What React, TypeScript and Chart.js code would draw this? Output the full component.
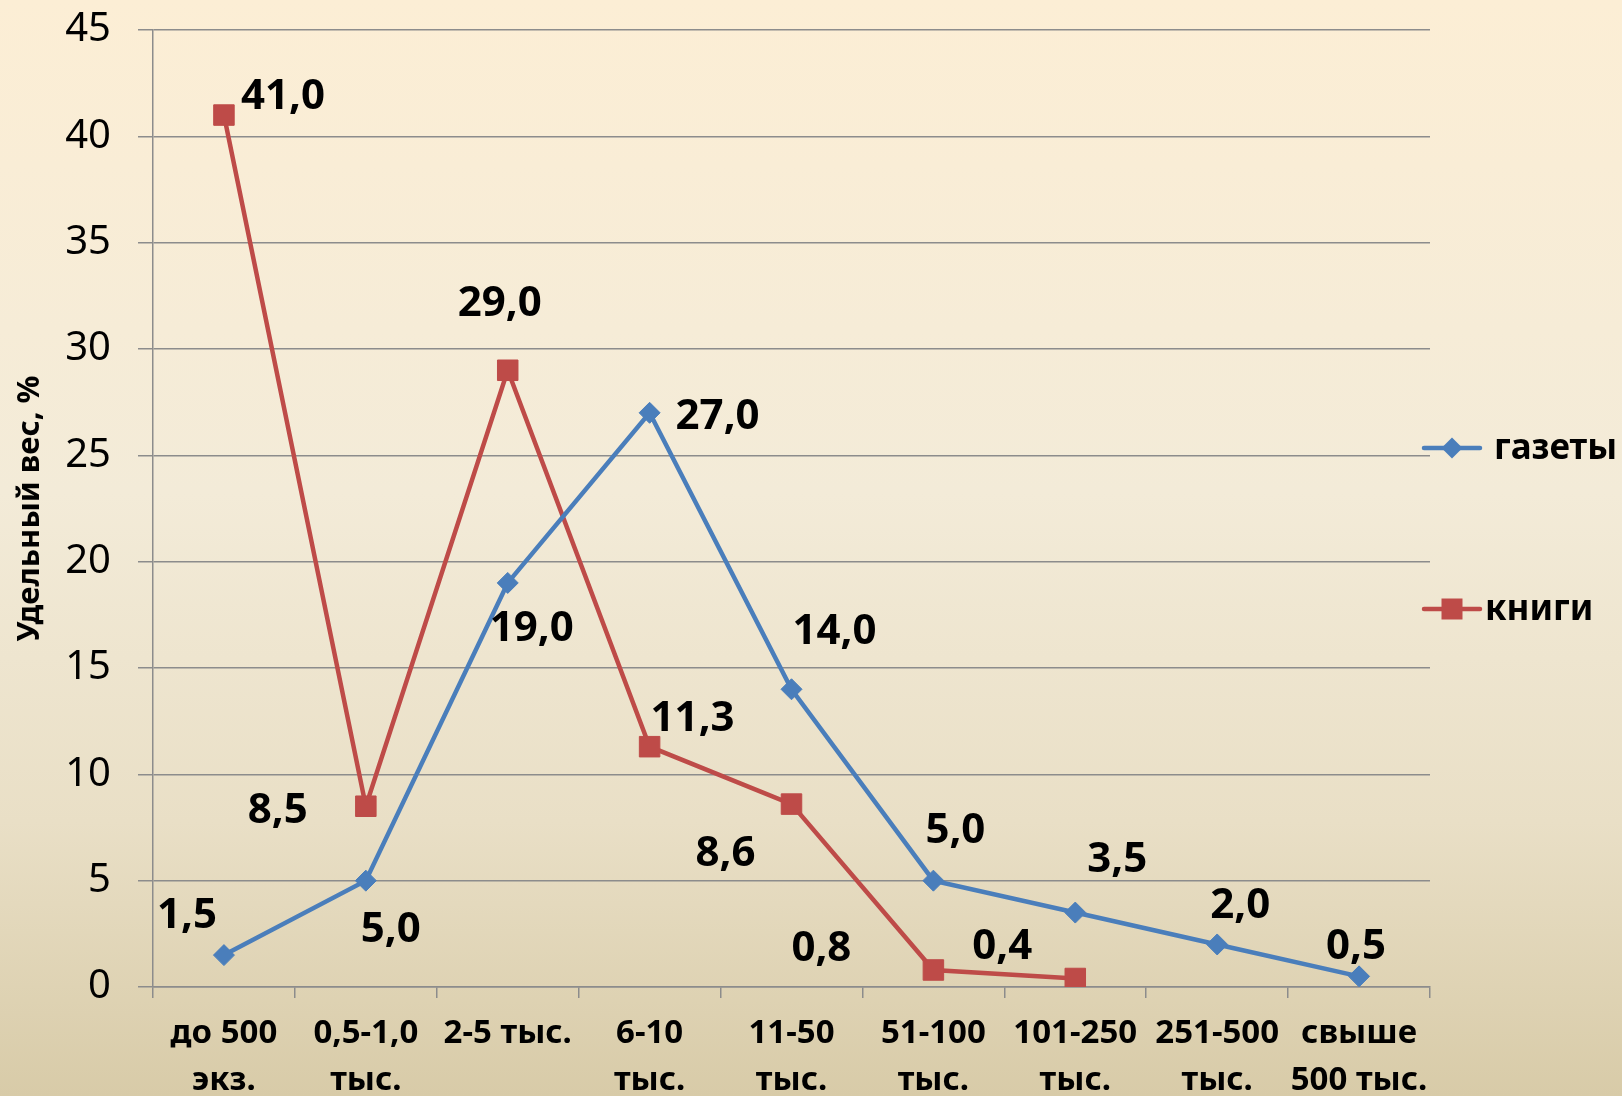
import { useEffect, useRef } from 'react';
import { Chart, registerables } from 'chart.js';

Chart.register(...registerables);

// ---- data ----
const categories: (string | string[])[] = [
  ['до 500', 'экз.'],
  ['0,5-1,0', 'тыс.'],
  '2-5 тыс.',
  ['6-10', 'тыс.'],
  ['11-50', 'тыс.'],
  ['51-100', 'тыс.'],
  ['101-250', 'тыс.'],
  ['251-500', 'тыс.'],
  ['свыше', '500 тыс.'],
];
const seriesNames = ['газеты', 'книги'];
const gazety: (number | null)[] = [1.5, 5.0, 19.0, 27.0, 14.0, 5.0, 3.5, 2.0, 0.5];
const knigi: (number | null)[] = [41.0, 8.5, 29.0, 11.3, 8.6, 0.8, 0.4, null, null];
const yMin = 0;
const yMax = 45;
const yStep = 5;
const yTitle = 'Удельный вес, %';

// data label offsets (label placement, px from the point)
const gazetyLabelOffsets = [[-37, -42], [25, 46], [24, 43], [68, 1], [43, -60], [22, -53], [42, -56], [23, -41], [-3, -32]];
const knigiLabelOffsets = [[59, -21], [-88, 2], [-8, -69], [43, -31], [-66, 47], [-112, -24], [-73, -34]];

const BLUE = '#4A7EBB';
const RED = '#BE4B48';
const GRID = '#8c8c8c';
const FONT = '"Noto Sans", "Open Sans", sans-serif';

const fmt = (v: number) => v.toFixed(1).replace('.', ',');

const dataLabelPlugin = {
  id: 'dataLabels',
  afterDatasetsDraw(chart: any) {
    const ctx = chart.ctx;
    const offsets = [gazetyLabelOffsets, knigiLabelOffsets];
    ctx.save();
    ctx.font = `bold 42px ${FONT}`;
    ctx.fillStyle = '#000';
    ctx.textAlign = 'center';
    ctx.textBaseline = 'alphabetic';
    chart.data.datasets.forEach((ds: any, di: number) => {
      const meta = chart.getDatasetMeta(di);
      meta.data.forEach((el: any, i: number) => {
        const v = ds.data[i];
        if (v === null || v === undefined) return;
        const off = offsets[di][i] || [0, -30];
        ctx.fillText(fmt(v), el.x + off[0], el.y + off[1] + 15);
      });
    });
    ctx.restore();
  },
};

const legendPlugin = {
  id: 'customLegend',
  afterDraw(chart: any) {
    const ctx = chart.ctx;
    const ca = chart.chartArea;
    const items = [
      { name: seriesNames[0], color: BLUE, style: 'diamond', y: 448, tx: ca.right + 64 },
      { name: seriesNames[1], color: RED, style: 'square', y: 609, tx: ca.right + 55 },
    ];
    ctx.save();
    items.forEach((it) => {
      const x0 = ca.right - 6;
      const x1 = ca.right + 50;
      const cx = (x0 + x1) / 2;
      ctx.strokeStyle = it.color;
      ctx.lineWidth = 4.5;
      ctx.lineCap = 'round';
      ctx.beginPath();
      ctx.moveTo(x0, it.y);
      ctx.lineTo(x1, it.y);
      ctx.stroke();
      ctx.fillStyle = it.color;
      ctx.beginPath();
      if (it.style === 'diamond') {
        const r = 10.5;
        ctx.moveTo(cx - r, it.y);
        ctx.lineTo(cx, it.y - r);
        ctx.lineTo(cx + r, it.y);
        ctx.lineTo(cx, it.y + r);
        ctx.closePath();
      } else {
        ctx.rect(cx - 10.5, it.y - 10.5, 21, 21);
      }
      ctx.fill();
      ctx.fillStyle = '#000';
      ctx.font = `bold 35px ${FONT}`;
      ctx.textAlign = 'left';
      ctx.textBaseline = 'alphabetic';
      ctx.fillText(it.name, it.tx, it.y + 11);
    });
    ctx.restore();
  },
};

export default function App() {
  const canvasRef = useRef<HTMLCanvasElement | null>(null);

  useEffect(() => {
    document.body.style.margin = '0';
    const canvas = canvasRef.current;
    if (!canvas) return;
    const chart = new Chart(canvas, {
      type: 'line',
      data: {
        labels: categories as any,
        datasets: [
          {
            label: seriesNames[0],
            data: gazety,
            borderColor: BLUE,
            backgroundColor: BLUE,
            borderWidth: 4.5,
            pointStyle: 'rectRot',
            pointRadius: 10.5,
            pointBorderWidth: 1,
            pointBorderColor: BLUE,
            pointBackgroundColor: BLUE,
            tension: 0,
            fill: false,
          },
          {
            label: seriesNames[1],
            data: knigi,
            borderColor: RED,
            backgroundColor: RED,
            borderWidth: 4.5,
            pointStyle: 'rect',
            pointRadius: 14.5,
            pointBorderWidth: 1,
            pointBorderColor: RED,
            pointBackgroundColor: RED,
            tension: 0,
            fill: false,
          },
        ],
      },
      options: {
        responsive: false,
        animation: false,
        devicePixelRatio: 1,
        layout: { padding: { top: 30, right: 192, left: 0, bottom: 0 } },
        plugins: {
          legend: { display: false },
          tooltip: { enabled: false },
        },
        scales: {
          x: {
            type: 'category',
            offset: true,
            grid: {
              display: true,
              drawOnChartArea: false,
              drawTicks: true,
              tickLength: 11,
              offset: true,
              color: GRID,
              lineWidth: 1.5,
            },
            border: { display: true, color: GRID, width: 1.5 },
            ticks: {
              color: '#000',
              font: { family: FONT, size: 33, weight: 'bold', lineHeight: 1.42 },
              padding: 12,
              maxRotation: 0,
              autoSkip: false,
            },
            afterFit(scale: any) {
              scale.height = 109;
            },
          },
          y: {
            min: yMin,
            max: yMax,
            ticks: {
              stepSize: yStep,
              color: '#000',
              font: { family: FONT, size: 40, lineHeight: 1.2 },
              padding: 27,
            },
            grid: {
              color: GRID,
              lineWidth: 1.5,
              tickLength: 15,
            },
            border: { display: true, color: GRID, width: 1.5 },
            title: {
              display: true,
              text: yTitle,
              color: '#000',
              font: { family: FONT, size: 31, weight: 'bold', lineHeight: 1.2 },
              padding: { top: 12, bottom: 0 },
            },
            afterFit(scale: any) {
              scale.width = 153;
              scale.paddingTop = 0;
              scale.paddingBottom = 0;
            },
          },
        },
      } as any,
      plugins: [dataLabelPlugin, legendPlugin],
    });
    return () => chart.destroy();
  }, []);

  return (
    <div
      style={{
        position: 'absolute',
        left: 0,
        top: 0,
        width: 1622,
        height: 1096,
        background: 'linear-gradient(to bottom, #FCEED5 0%, #F3EBD8 45%, #E9DFC6 75%, #D8CBA8 100%)',
      }}
    >
      <canvas ref={canvasRef} width={1622} height={1096} style={{ display: 'block', width: 1622, height: 1096 }} />
    </div>
  );
}
